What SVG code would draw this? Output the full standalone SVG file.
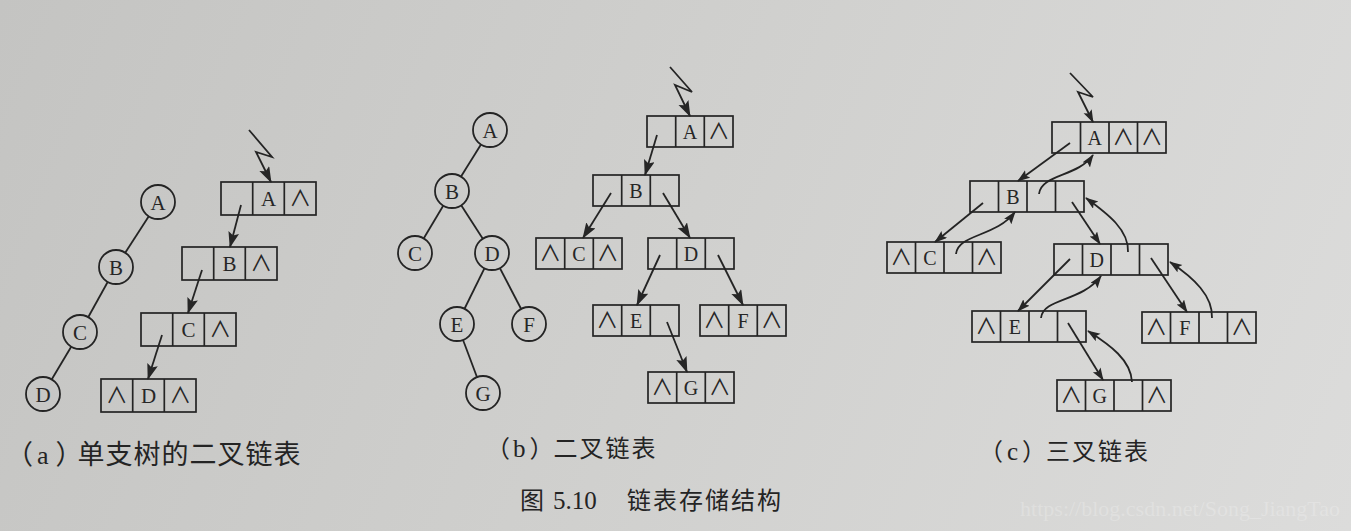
<svg xmlns="http://www.w3.org/2000/svg" width="1351" height="531" viewBox="0 0 1351 531">
<defs>
  <linearGradient id="bg" gradientUnits="userSpaceOnUse" x1="0" y1="0" x2="1351" y2="531">
    <stop offset="0" stop-color="#c4c4c2"/>
    <stop offset="0.5" stop-color="#d0d0ce"/>
    <stop offset="1" stop-color="#dcdcdb"/>
  </linearGradient>
  <marker id="ah" markerUnits="userSpaceOnUse" markerWidth="18" markerHeight="12" refX="15" refY="5.5" orient="auto">
    <path d="M0,0 L16,5.5 L0,11 L3,5.5 z" fill="#262626"/>
  </marker>
  <marker id="as" markerUnits="userSpaceOnUse" markerWidth="14" markerHeight="10" refX="12" refY="4.5" orient="auto">
    <path d="M0,0 L13,4.5 L0,9 L2.5,4.5 z" fill="#262626"/>
  </marker>
</defs>
<style>
  .ln{fill:none;stroke:#242424;stroke-width:1.8}
  .cir{fill:url(#bg);stroke:#242424;stroke-width:1.8}
  .box{fill:none;stroke:#242424;stroke-width:1.7}
  .t{font-family:"Liberation Serif",serif;font-size:21px;text-anchor:middle;fill:#262626}
  .ts{font-family:"Liberation Serif",serif;font-size:20px;text-anchor:middle;fill:#262626}
  .nil{font-family:"Noto Sans CJK SC","DejaVu Sans",sans-serif;font-size:22px;text-anchor:middle;fill:#262626}
  .cap{font-family:"Noto Sans CJK SC",sans-serif;font-size:24px;fill:#242424}
  .capl{font-family:"Liberation Serif",serif;font-size:25px;fill:#242424}
  .wm{font-family:"Liberation Serif",serif;font-size:22px;fill:#ffffff;fill-opacity:0.22}
</style>
<rect x="0" y="0" width="1351" height="531" fill="url(#bg)"/>

<!-- connectors -->
<g id="connectors">
  <!-- (a) tree edges -->
  <line class="ln" x1="158" y1="202" x2="116" y2="267"/>
  <line class="ln" x1="116" y1="267" x2="80" y2="332"/>
  <line class="ln" x1="80" y1="332" x2="43" y2="394"/>
  <!-- (b) tree edges -->
  <line class="ln" x1="490" y1="130" x2="452" y2="191"/>
  <line class="ln" x1="452" y1="191" x2="415" y2="253"/>
  <line class="ln" x1="452" y1="191" x2="492" y2="253"/>
  <line class="ln" x1="492" y1="253" x2="457" y2="324"/>
  <line class="ln" x1="492" y1="253" x2="529" y2="324"/>
  <line class="ln" x1="457" y1="324" x2="483" y2="393"/>
  <!-- (a) list -->
  <polyline class="ln" points="249,130 272,157 256,152 271,182" marker-end="url(#ah)"/>
  <line class="ln" x1="241" y1="205" x2="230" y2="247" marker-end="url(#ah)"/>
  <line class="ln" x1="202" y1="270" x2="188" y2="313" marker-end="url(#ah)"/>
  <line class="ln" x1="162" y1="335" x2="148" y2="379" marker-end="url(#ah)"/>
  <!-- (b) list -->
  <polyline class="ln" points="670,67 692,92 675,85 690,116" marker-end="url(#ah)"/>
  <line class="ln" x1="657" y1="135" x2="645" y2="175" marker-end="url(#ah)"/>
  <line class="ln" x1="611" y1="193" x2="583" y2="238" marker-end="url(#ah)"/>
  <line class="ln" x1="663" y1="193" x2="690" y2="238" marker-end="url(#ah)"/>
  <line class="ln" x1="660" y1="255" x2="637" y2="305" marker-end="url(#ah)"/>
  <line class="ln" x1="718" y1="255" x2="743" y2="305" marker-end="url(#ah)"/>
  <line class="ln" x1="667" y1="322" x2="687" y2="372" marker-end="url(#ah)"/>
  <!-- (c) list -->
  <polyline class="ln" points="1070,73 1093,97 1078,92 1093,122" marker-end="url(#as)"/>
  <line class="ln" x1="1070" y1="143" x2="1018" y2="181" marker-end="url(#as)"/>
  <path class="ln" d="M1039,194 C1041,174 1078,177 1093,155" marker-end="url(#as)"/>
  <line class="ln" x1="983" y1="203" x2="935" y2="242" marker-end="url(#as)"/>
  <path class="ln" d="M956,254 C958,234 996,237 1015,212" marker-end="url(#as)"/>
  <line class="ln" x1="1072" y1="202" x2="1100" y2="244" marker-end="url(#as)"/>
  <path class="ln" d="M1128,252 C1129,230 1108,214 1086,198" marker-end="url(#as)"/>
  <line class="ln" x1="1070" y1="259" x2="1018" y2="311" marker-end="url(#as)"/>
  <path class="ln" d="M1041,318 C1043,298 1082,302 1101,276" marker-end="url(#as)"/>
  <line class="ln" x1="1151" y1="258" x2="1187" y2="312" marker-end="url(#as)"/>
  <path class="ln" d="M1212,318 C1213,296 1194,278 1170,262" marker-end="url(#as)"/>
  <line class="ln" x1="1068" y1="323" x2="1103" y2="380" marker-end="url(#as)"/>
  <path class="ln" d="M1132,382 C1131,360 1110,345 1088,331" marker-end="url(#as)"/>
</g>

<!-- (a) tree nodes -->
<g id="a-tree-A"><circle class="cir" cx="158" cy="202" r="17"/><text class="t" x="158" y="209.5">A</text></g>
<g id="a-tree-B"><circle class="cir" cx="116" cy="267" r="17"/><text class="t" x="116" y="274.5">B</text></g>
<g id="a-tree-C"><circle class="cir" cx="80" cy="332" r="17"/><text class="t" x="80" y="339.5">C</text></g>
<g id="a-tree-D"><circle class="cir" cx="43" cy="394" r="17"/><text class="t" x="43" y="401.5">D</text></g>

<!-- (a) list nodes -->
<g id="a-list-A"><rect class="box" x="221" y="182" width="95" height="33"/><line class="box" x1="252.7" y1="182" x2="252.7" y2="215"/><line class="box" x1="284.3" y1="182" x2="284.3" y2="215"/><text class="t" x="268.5" y="206">A</text><text class="nil" x="300.2" y="206">∧</text></g>
<g id="a-list-B"><rect class="box" x="182" y="247" width="95" height="33"/><line class="box" x1="213.7" y1="247" x2="213.7" y2="280"/><line class="box" x1="245.3" y1="247" x2="245.3" y2="280"/><text class="t" x="229.5" y="271">B</text><text class="nil" x="261.2" y="271">∧</text></g>
<g id="a-list-C"><rect class="box" x="141" y="313" width="95" height="33"/><line class="box" x1="172.7" y1="313" x2="172.7" y2="346"/><line class="box" x1="204.3" y1="313" x2="204.3" y2="346"/><text class="t" x="188.5" y="337">C</text><text class="nil" x="220.2" y="337">∧</text></g>
<g id="a-list-D"><rect class="box" x="101" y="379" width="95" height="33"/><line class="box" x1="132.7" y1="379" x2="132.7" y2="412"/><line class="box" x1="164.3" y1="379" x2="164.3" y2="412"/><text class="nil" x="116.8" y="403">∧</text><text class="t" x="148.5" y="403">D</text><text class="nil" x="180.2" y="403">∧</text></g>

<!-- (b) tree nodes -->
<g id="b-tree-A"><circle class="cir" cx="490" cy="130" r="17"/><text class="t" x="490" y="137.5">A</text></g>
<g id="b-tree-B"><circle class="cir" cx="452" cy="191" r="17"/><text class="t" x="452" y="198.5">B</text></g>
<g id="b-tree-C"><circle class="cir" cx="415" cy="253" r="17"/><text class="t" x="415" y="260.5">C</text></g>
<g id="b-tree-D"><circle class="cir" cx="492" cy="253" r="17"/><text class="t" x="492" y="260.5">D</text></g>
<g id="b-tree-E"><circle class="cir" cx="457" cy="324" r="17"/><text class="t" x="457" y="331.5">E</text></g>
<g id="b-tree-F"><circle class="cir" cx="529" cy="324" r="17"/><text class="t" x="529" y="331.5">F</text></g>
<g id="b-tree-G"><circle class="cir" cx="483" cy="393" r="17"/><text class="t" x="483" y="400.5">G</text></g>

<!-- (b) list nodes -->
<g id="b-list-A"><rect class="box" x="647" y="116" width="86" height="31"/><line class="box" x1="675.7" y1="116" x2="675.7" y2="147"/><line class="box" x1="704.3" y1="116" x2="704.3" y2="147"/><text class="ts" x="690" y="139">A</text><text class="nil" x="718.7" y="139">∧</text></g>
<g id="b-list-B"><rect class="box" x="593" y="175" width="86" height="31"/><line class="box" x1="621.7" y1="175" x2="621.7" y2="206"/><line class="box" x1="650.3" y1="175" x2="650.3" y2="206"/><text class="ts" x="636" y="198">B</text></g>
<g id="b-list-C"><rect class="box" x="536" y="238" width="86" height="31"/><line class="box" x1="564.7" y1="238" x2="564.7" y2="269"/><line class="box" x1="593.3" y1="238" x2="593.3" y2="269"/><text class="nil" x="550.3" y="261">∧</text><text class="ts" x="579" y="261">C</text><text class="nil" x="607.7" y="261">∧</text></g>
<g id="b-list-D"><rect class="box" x="648" y="238" width="86" height="31"/><line class="box" x1="676.7" y1="238" x2="676.7" y2="269"/><line class="box" x1="705.3" y1="238" x2="705.3" y2="269"/><text class="ts" x="691" y="261">D</text></g>
<g id="b-list-E"><rect class="box" x="593" y="305" width="86" height="31"/><line class="box" x1="621.7" y1="305" x2="621.7" y2="336"/><line class="box" x1="650.3" y1="305" x2="650.3" y2="336"/><text class="nil" x="607.3" y="328">∧</text><text class="ts" x="636" y="328">E</text></g>
<g id="b-list-F"><rect class="box" x="700" y="305" width="86" height="31"/><line class="box" x1="728.7" y1="305" x2="728.7" y2="336"/><line class="box" x1="757.3" y1="305" x2="757.3" y2="336"/><text class="nil" x="714.3" y="328">∧</text><text class="ts" x="743" y="328">F</text><text class="nil" x="771.7" y="328">∧</text></g>
<g id="b-list-G"><rect class="box" x="648" y="372" width="86" height="31"/><line class="box" x1="676.7" y1="372" x2="676.7" y2="403"/><line class="box" x1="705.3" y1="372" x2="705.3" y2="403"/><text class="nil" x="662.3" y="395">∧</text><text class="ts" x="691" y="395">G</text><text class="nil" x="719.7" y="395">∧</text></g>

<!-- (c) list nodes -->
<g id="c-list-A"><rect class="box" x="1052" y="122" width="114" height="31"/><line class="box" x1="1080.5" y1="122" x2="1080.5" y2="153"/><line class="box" x1="1109" y1="122" x2="1109" y2="153"/><line class="box" x1="1137.5" y1="122" x2="1137.5" y2="153"/><text class="ts" x="1094.8" y="145">A</text><text class="nil" x="1123.3" y="145">∧</text><text class="nil" x="1151.8" y="145">∧</text></g>
<g id="c-list-B"><rect class="box" x="970" y="181" width="114" height="31"/><line class="box" x1="998.5" y1="181" x2="998.5" y2="212"/><line class="box" x1="1027" y1="181" x2="1027" y2="212"/><line class="box" x1="1055.5" y1="181" x2="1055.5" y2="212"/><text class="ts" x="1012.8" y="204">B</text></g>
<g id="c-list-C"><rect class="box" x="887" y="242" width="114" height="31"/><line class="box" x1="915.5" y1="242" x2="915.5" y2="273"/><line class="box" x1="944" y1="242" x2="944" y2="273"/><line class="box" x1="972.5" y1="242" x2="972.5" y2="273"/><text class="nil" x="901.3" y="265">∧</text><text class="ts" x="929.8" y="265">C</text><text class="nil" x="986.8" y="265">∧</text></g>
<g id="c-list-D"><rect class="box" x="1054" y="244" width="114" height="31"/><line class="box" x1="1082.5" y1="244" x2="1082.5" y2="275"/><line class="box" x1="1111" y1="244" x2="1111" y2="275"/><line class="box" x1="1139.5" y1="244" x2="1139.5" y2="275"/><text class="ts" x="1096.8" y="267">D</text></g>
<g id="c-list-E"><rect class="box" x="972" y="311" width="114" height="31"/><line class="box" x1="1000.5" y1="311" x2="1000.5" y2="342"/><line class="box" x1="1029" y1="311" x2="1029" y2="342"/><line class="box" x1="1057.5" y1="311" x2="1057.5" y2="342"/><text class="nil" x="986.3" y="334">∧</text><text class="ts" x="1014.8" y="334">E</text></g>
<g id="c-list-F"><rect class="box" x="1142" y="312" width="114" height="31"/><line class="box" x1="1170.5" y1="312" x2="1170.5" y2="343"/><line class="box" x1="1199" y1="312" x2="1199" y2="343"/><line class="box" x1="1227.5" y1="312" x2="1227.5" y2="343"/><text class="nil" x="1156.3" y="335">∧</text><text class="ts" x="1184.8" y="335">F</text><text class="nil" x="1241.8" y="335">∧</text></g>
<g id="c-list-G"><rect class="box" x="1057" y="380" width="114" height="31"/><line class="box" x1="1085.5" y1="380" x2="1085.5" y2="411"/><line class="box" x1="1114" y1="380" x2="1114" y2="411"/><line class="box" x1="1142.5" y1="380" x2="1142.5" y2="411"/><text class="nil" x="1071.3" y="403">∧</text><text class="ts" x="1099.8" y="403">G</text><text class="nil" x="1156.8" y="403">∧</text></g>

<!-- captions -->
<g id="captions">
  <text class="cap" style="font-size:27px" x="6" y="464"><tspan letter-spacing="4">（</tspan><tspan class="capl" style="font-size:26px" letter-spacing="7">a</tspan><tspan letter-spacing="-5">）</tspan><tspan letter-spacing="1">单支树的二叉链表</tspan></text>
  <text class="cap" x="486" y="457"><tspan letter-spacing="3">（</tspan><tspan class="capl" letter-spacing="4">b</tspan>）<tspan letter-spacing="2">二叉链表</tspan></text>
  <text class="cap" x="979" y="460"><tspan letter-spacing="4">（</tspan><tspan class="capl" letter-spacing="4">c</tspan>）<tspan letter-spacing="2">三叉链表</tspan></text>
  <text class="cap" x="520" y="509">图<tspan class="capl" x="553">5.10</tspan><tspan x="627" letter-spacing="2">链表存储结构</tspan></text>
  <text class="wm" x="1340" y="516" text-anchor="end">https://blog.csdn.net/Song_JiangTao</text>
</g>
</svg>
